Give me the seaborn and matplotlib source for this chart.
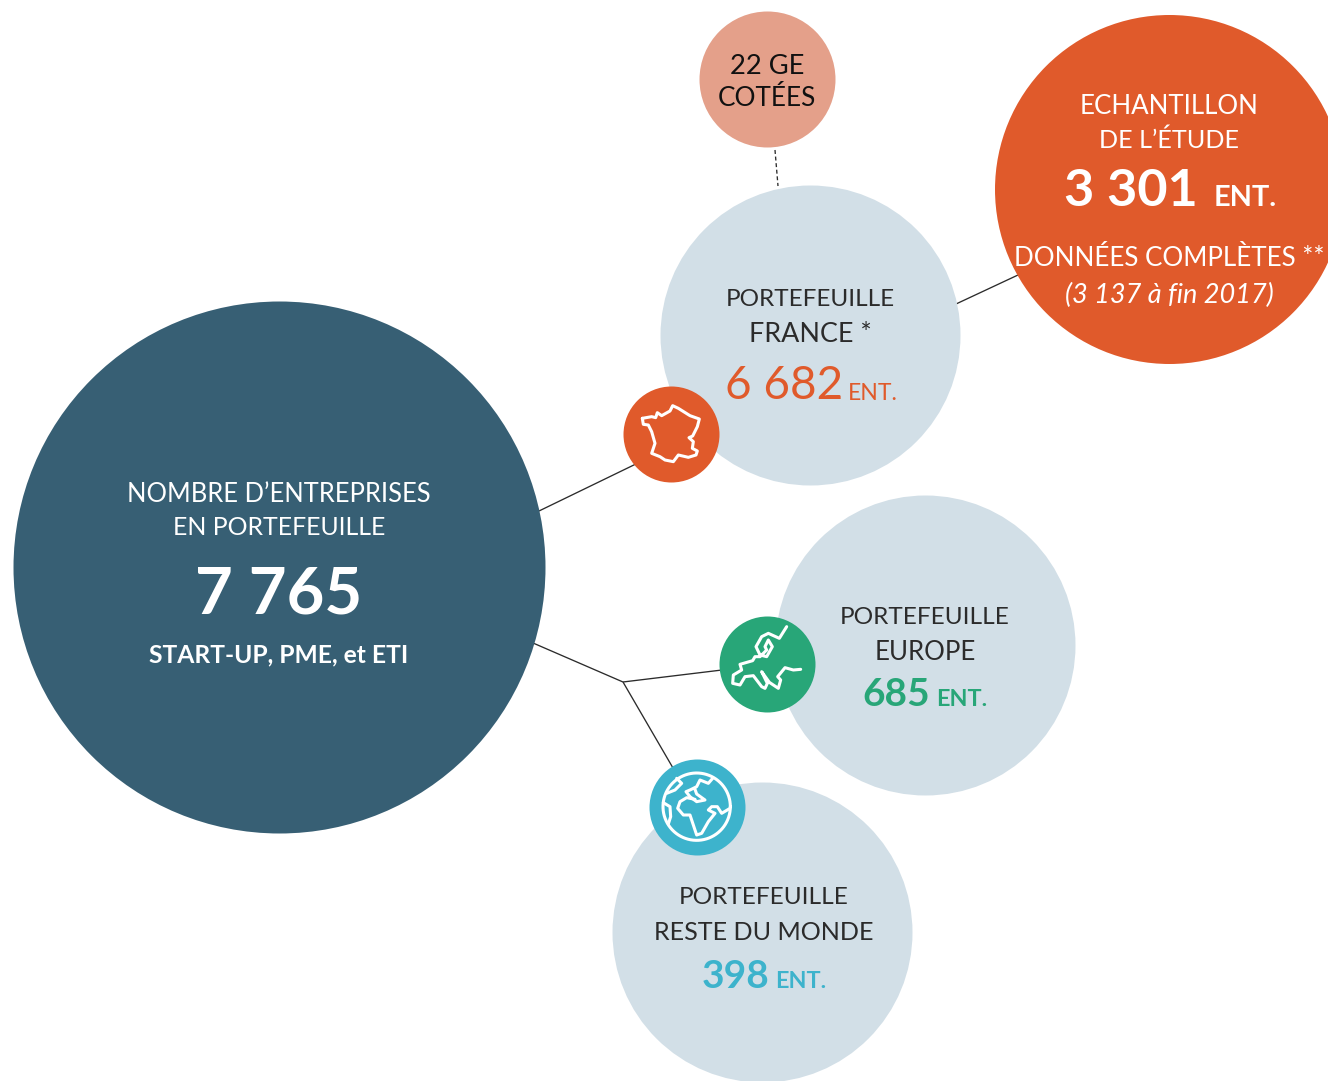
import numpy as np
import pandas as pd
import matplotlib
matplotlib.use("Agg")
import matplotlib.pyplot as plt
import seaborn as sns

# ---- data ----
total_value = 7765
france_value = 6682
europe_value = 685
world_value = 398
sample_value = 3301
listed_value = 22
complete_2017 = 3137

NAVY = "#375F74"; PALE = "#D2DFE7"; ORANGE = "#E05A2B"; SALMON = "#E4A08A"
GREEN = "#28A678"; CYAN = "#3DB3CC"; DARK = "#2B2B2B"

sns.set_theme(style="white")
plt.rcParams["font.family"] = ["Lato", "DejaVu Sans"]

W, H = 1328, 1081
fig = plt.figure(figsize=(W / 100, H / 100), dpi=100)
ax = fig.add_axes([0, 0, 1, 1])

# ---- layout (pixel frame of the figure) ----
bubbles = pd.DataFrame(
    [
        (278.5, 567, 266, NAVY),
        (809.5, 335, 150, PALE),
        (924.5, 644.5, 150, PALE),
        (761.5, 931.5, 150, PALE),
        (1168.5, 188.5, 174.5, ORANGE),
        (767, 79, 68, SALMON),
        (671, 434, 48, ORANGE),
        (767, 664, 48, GREEN),
        (697, 807, 48, CYAN),
    ],
    columns=["x", "y", "r", "c"],
)

for a, b in [((539, 511), (640, 462)), ((533, 643), (623, 682)), ((623, 682), (722, 670)),
             ((623, 682), (673, 768)), ((956, 304), (1018, 275))]:
    ax.plot([a[0], b[0]], [a[1], b[1]], color=DARK, lw=0.95, zorder=1, solid_capstyle="butt")
ax.plot([775, 778], [150, 186], color=DARK, lw=0.95, ls=(0, (3, 2)), zorder=1)

for i, row in bubbles.iterrows():
    sns.scatterplot(x=[row.x], y=[row.y], s=(2 * row.r * 0.72) ** 2, color=row.c,
                    linewidth=0, ax=ax, zorder=2, clip_on=True, legend=False)
for coll in ax.collections:
    coll.set_snap(False)

ax.set_xlim(0, W)
ax.set_ylim(H, 0)
ax.axis("off")


def fmt(v):
    return f"{v:,}".replace(",", " ")


def t(x, y, s, size, color="white", weight="normal", ha="center", style="normal"):
    ax.text(x, y, s, fontsize=size, color=color, fontweight=weight, ha=ha, va="center",
            style=style, zorder=5)


# main bubble
t(279, 494, "NOMBRE D’ENTREPRISES", 18.4)
t(279, 527.5, "EN PORTEFEUILLE", 17.9)
t(279, 595, fmt(total_value), 47, weight="bold")
t(279, 655, "START-UP, PME, et ETI", 17.7, weight="bold")

# France
t(810, 300, "PORTEFEUILLE", 17.5, DARK)
t(810, 335, "FRANCE *", 19.4, DARK)
t(843, 386, fmt(france_value), 33, ORANGE, ha="right")
t(848, 394, "ENT.", 16.6, ORANGE, ha="left")

# Europe
t(925, 618, "PORTEFEUILLE", 17.6, DARK)
t(925, 653, "EUROPE", 18.6, DARK)
t(930, 695, fmt(europe_value), 28, GREEN, weight="bold", ha="right")
t(936, 700, "ENT.", 16.8, GREEN, weight="bold", ha="left")

# Rest of world
t(764, 898, "PORTEFEUILLE", 17.6, DARK)
t(764, 933, "RESTE DU MONDE", 18.1, DARK)
t(769, 976, fmt(world_value), 28, CYAN, weight="bold", ha="right")
t(775, 981, "ENT.", 16.8, CYAN, weight="bold", ha="left")

# Sample
t(1169, 106, "ECHANTILLON", 18.6)
t(1169, 140, "DE L’ÉTUDE", 18.2)
t(1064, 192, fmt(sample_value), 37.5, weight="bold", ha="left")
t(1214, 198, "ENT.", 20.8, weight="bold", ha="left")
t(1169, 259, "DONNÉES COMPLÈTES **", 18.7)
t(1169, 295, "(3 137 à fin 2017)".replace("3 137", fmt(complete_2017)), 19.5, style="italic")

# listed companies
t(767, 66, f"{listed_value} GE", 19.7, "#111111")
t(767, 98, "COTÉES", 18.8, "#111111")


# ---- icons (decorative outlines, traced in 3x crop coordinates) ----
def icon(ox, oy, pts, lw=2.2):
    p = np.array(pts, float)
    ax.plot(ox + p[:, 0] / 3, oy + p[:, 1] / 3, color="white", lw=lw, zorder=6,
            solid_joinstyle="round", solid_capstyle="round")


icon(610, 375, [(97, 130), (125, 125), (137, 128), (142, 113), (155, 122), (180, 108), (188, 92),
                (205, 100), (240, 122), (268, 132), (262, 155), (248, 183), (237, 188), (250, 200),
                (247, 220), (262, 228), (258, 240), (235, 247), (205, 240), (190, 260), (165, 255),
                (150, 245), (125, 235), (135, 205), (125, 170), (115, 150), (100, 148), (97, 130)])

icon(710, 605, [(230, 65), (208, 100), (175, 85), (155, 95), (138, 125), (150, 150), (170, 155),
                (187, 125), (175, 105), (165, 125), (170, 135), (150, 155), (135, 155), (128, 167),
                (90, 178), (95, 195), (70, 210), (68, 235), (90, 240), (105, 215), (130, 212),
                (155, 245), (165, 250), (172, 235), (155, 200), (178, 232), (205, 250), (212, 225),
                (203, 215), (225, 188), (250, 195), (272, 193)])

# globe
th = np.linspace(0, 2 * np.pi, 80)
icon(640, 750, np.c_[170 + 101 * np.cos(th), 170 + 101 * np.sin(th)])
icon(640, 750, [(80, 130), (105, 120), (125, 100), (110, 85)])
icon(640, 750, [(70, 158), (90, 170), (92, 200), (85, 222)])
icon(640, 750, [(218, 85), (205, 100), (180, 90), (170, 110), (150, 120), (138, 125), (150, 140),
                (170, 155), (195, 150), (170, 132), (165, 118)])
icon(640, 750, [(165, 148), (140, 143), (120, 155), (113, 175), (130, 195), (150, 195), (160, 225),
                (170, 255), (185, 250), (205, 215), (225, 190), (205, 180), (215, 170), (232, 170),
                (245, 190), (270, 175)])

fig.savefig("out.png", dpi=100, facecolor="white")
